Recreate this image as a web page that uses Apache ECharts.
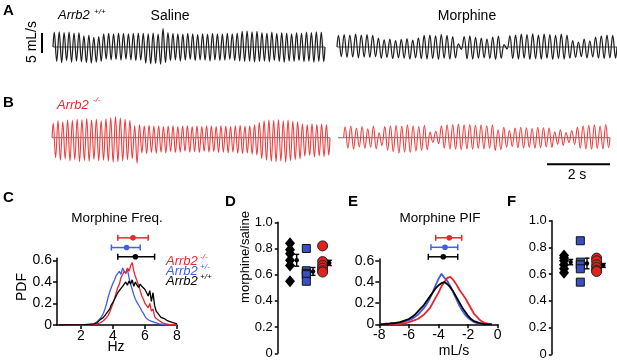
<!DOCTYPE html>
<html>
<head>
<meta charset="utf-8">
<script src="https://cdn.jsdelivr.net/npm/echarts@6/dist/echarts.min.js"></script>
<style>
  html, body { margin: 0; padding: 0; background: #fff; }
  #chart { width: 617px; height: 362px; }
</style>
</head>
<body>
<div id="chart"></div>
<script>
// ---------- traces A/B: peak and trough of every breath, mL/s ----------
const aSalinePeaks = [3.7,3.8,3.6,3.7,3.5,3.6, 2.8,3.0,2.4, 2.6, 3.3,3.4,3.3,3.5,3.4,3.3,3.4,3.5, 3.4,3.3,3.5,3.2, 4.6,
  3.6,3.4,3.3,3.2,3.4,3.3,3.1,3.3,3.2,3.4,3.3,3.2,3.4,3.3,3.5, 3.9,4.0,3.8,3.9,
  3.6,3.5,3.7,3.4,3.6,3.5,3.3,3.6,3.5,3.7,3.6,3.8,3.7]
const aSalineTroughs = [-3.6,-3.9,-3.4,-3.8,-3.5,-3.7, -3.9,-4.0,-3.8, -3.6, -3.0,-3.2,-3.1,-3.3,-3.0,-3.2,-3.4,-3.3, -4.0,-4.2,-4.1,-4.3, -3.9,
  -3.4,-3.2,-3.5,-3.3,-3.1,-3.4,-3.2,-3.3,-3.5,-3.2,-3.4,-3.3,-3.1,-3.4,-3.5, -3.6,-3.5,-3.7,-3.6,
  -3.5,-3.7,-3.4,-3.6,-3.8,-3.5,-3.6,-3.4,-3.7,-3.5,-3.8,-3.6,-3.7]
const aMorphinePeaks = [2.9,3.1,3.0,3.2,3.0,3.1,2.9, 2.2,1.8,2.0,1.6,1.9,2.1,1.7,2.3, 2.9,3.0,2.8,3.1,2.9,2.6, 0.8,
  2.6,2.8,2.4,2.2,2.0,2.5,2.7, 0.6, 2.8,3.0,3.2,3.1,3.3,3.0,3.2,3.1,2.9,3.2,3.0, 1.6,1.2,2.0,1.5, 2.5,2.8,3.0,2.9]
const aMorphineTroughs = [-2.4,-2.6,-2.5,-2.7,-2.5,-2.6,-2.4, -2.8,-2.6,-2.9,-2.7,-2.8,-3.0,-2.7,-2.9, -3.0,-2.9,-3.1,-2.8,-3.0,-2.7, -0.6,
  -2.9,-3.0,-2.8,-2.7,-2.9,-3.1,-2.8, -0.5, -2.9,-3.0,-2.8,-3.1,-2.9,-3.0,-2.8,-3.1,-2.9,-3.0,-2.8, -2.6,-2.4,-2.7,-2.5, -2.8,-2.9,-2.7,-2.8]
const bSalinePeaks = [3.6,4.2,4.0,4.4,4.3,4.6,4.5,4.8,4.4,4.6,4.2,4.7,5.0,5.2,4.9,4.6,4.3, 3.0,
  3.2,3.0,3.1,2.9,3.0,2.8,2.9,3.0,2.8,2.9,3.0,2.8,2.9,2.8,3.0,2.9,2.8,3.0,2.9,2.8,3.0,3.1,2.9,3.0,3.2,
  3.8,4.2,4.4,4.3,4.5,4.2,4.4,4.1,4.0, 3.4,3.2,3.5,3.3,3.4,3.2]
const bSalineTroughs = [-5.0,-5.6,-5.3,-5.8,-5.5,-6.0,-5.7,-5.9,-5.4,-5.8,-5.6,-5.9,-6.1,-6.0,-5.8,-5.5,-5.2, -6.4,
  -3.8,-4.0,-3.7,-3.9,-3.6,-3.8,-3.5,-3.7,-3.6,-3.4,-3.6,-3.5,-3.7,-3.4,-3.6,-3.5,-3.7,-3.6,-3.8,-3.6,-3.9,-4.0,-3.8,-4.1,-4.3,
  -5.2,-5.6,-5.9,-6.0,-5.8,-6.1,-5.7,-5.5,-5.3, -4.6,-4.4,-4.8,-4.5,-4.7,-4.4]
const bMorphinePeaks = [2.7,2.9,2.4,2.8,2.2,2.9, 1.2, 2.8,3.0,3.1,2.9,3.2,3.0,2.8,3.1, 1.4,1.6,
  3.0,3.2,3.3,3.4,3.2,3.3,3.1,3.2,3.0,3.2, 2.0,2.6,1.8, 2.4,2.6,2.5,2.3,2.6,2.5,2.4, 1.5,2.0,1.3,1.8, 2.6,3.0,3.1,3.2,2.9,3.3]
const bMorphineTroughs = [-2.6,-2.8,-2.3,-2.7,-2.4,-2.8, -2.0, -3.2,-3.5,-3.8,-3.6,-3.7,-3.4,-3.2,-3.0, -1.2,-1.5,
  -2.6,-2.8,-2.9,-3.0,-2.8,-2.9,-2.7,-2.8,-2.6,-3.2, -3.0,-2.4,-2.2, -2.5,-2.6,-2.4,-2.6,-2.5,-2.3,-2.4, -1.6,-1.9,-1.2,-1.7, -2.6,-2.8,-2.9,-2.7,-2.8,-2.5]

// ---------- C: morphine frequency PDF ----------
const freqBins = [0.6,1.5,2.2,2.6, 2.8,2.9,3.0,3.1,3.2,3.3,3.4,3.5,3.6,3.7, 3.8,3.9,4.0,4.1,4.2,4.3,4.4,4.5,4.6,4.7,
  4.8,4.9,5.0,5.1,5.2,5.3,5.4,5.5,5.6,5.7, 5.8,5.9,6.0,6.1,6.2,6.3,6.4,6.5,6.6,6.7, 6.8,6.9,7.0,7.1,7.2,7.3,7.4,7.5,7.6,7.7,7.8,7.9,8.0]
const freqKO = [0,0,0,0.003, 0.005,0.01,0.01,0.02,0.02,0.03,0.04,0.05,0.07,0.09, 0.12,0.16,0.20,0.25,0.30,0.35,0.38,0.44,0.47,0.50,
  0.48,0.53,0.50,0.55,0.58,0.50,0.45,0.41,0.37,0.32, 0.27,0.24,0.20,0.18,0.16,0.20,0.13,0.15,0.08,0.06, 0.05,0.04,0.03,0.02,0.02,0.01,0.01,0.005,0.004,0.003,0.002,0.001,0]
const freqHet = [0,0,0.003,0.006, 0.01,0.02,0.03,0.04,0.06,0.08,0.11,0.15,0.20,0.26, 0.31,0.35,0.39,0.42,0.46,0.48,0.50,0.47,0.53,0.50,
  0.48,0.52,0.44,0.38,0.33,0.28,0.24,0.21,0.20,0.16, 0.13,0.11,0.08,0.06,0.05,0.04,0.03,0.03,0.02,0.02, 0.01,0.01,0.01,0.005,0.005,0.004,0.003,0.002,0.002,0.001,0.001,0.001,0]
const freqWT = [0,0.002,0.004,0.008, 0.01,0.02,0.02,0.03,0.05,0.06,0.07,0.09,0.11,0.13, 0.15,0.19,0.21,0.24,0.27,0.30,0.31,0.34,0.36,0.35,
  0.40,0.37,0.41,0.38,0.42,0.36,0.40,0.37,0.35,0.38, 0.36,0.37,0.33,0.30,0.27,0.32,0.22,0.30,0.18,0.13, 0.11,0.09,0.07,0.06,0.06,0.05,0.04,0.05,0.03,0.03,0.02,0.02,0.01]
// [low, high, mean] Hz
const freqStatsKO = [4.3, 6.2, 5.25]
const freqStatsHet = [3.9, 5.7, 4.85]
const freqStatsWT = [4.3, 6.6, 5.4]

// ---------- E: morphine PIF PDF ----------
const pifBins = [-8.0,-7.8,-7.6,-7.4,-7.2,-7.0,-6.8,-6.6,-6.4,-6.2, -6.0,-5.8,-5.6,-5.4,-5.2,-5.0,-4.8,-4.6,-4.4,-4.2,
  -4.0,-3.8,-3.6,-3.4,-3.2,-3.0,-2.8,-2.6,-2.4,-2.2, -2.0,-1.8,-1.6,-1.4,-1.2,-1.0,-0.8,-0.6,-0.4]
const pifKO = [0,0,0,0,0,0,0.003,0.005,0.01,0.01, 0.02,0.03,0.04,0.05,0.07,0.09,0.12,0.15,0.20,0.25,
  0.30,0.36,0.40,0.44,0.45,0.42,0.38,0.33,0.29,0.25, 0.20,0.15,0.10,0.07,0.04,0.02,0.01,0.005,0]
const pifHet = [0,0,0,0.003,0.005,0.005,0.01,0.015,0.02,0.03, 0.04,0.05,0.07,0.09,0.12,0.15,0.19,0.24,0.30,0.37,
  0.43,0.48,0.44,0.41,0.36,0.30,0.24,0.18,0.13,0.09, 0.06,0.04,0.02,0.01,0.005,0.003,0,0,0]
const pifWT = [0,0,0.005,0.005,0.01,0.01,0.015,0.02,0.03,0.04, 0.05,0.07,0.09,0.12,0.15,0.18,0.22,0.26,0.30,0.34,
  0.37,0.39,0.40,0.38,0.35,0.31,0.26,0.21,0.16,0.12, 0.08,0.05,0.03,0.02,0.01,0.005,0,0,0]
const pifStatsKO = [-4.19, -2.43, -3.27]
const pifStatsHet = [-4.51, -2.70, -3.56]
const pifStatsWT = [-4.69, -2.70, -3.68]

// ---------- D / F: morphine/saline ratio per mouse ----------
const dWT = [0.84, 0.79, 0.76, 0.71, 0.67, 0.55]
const dHet = [0.80, 0.63, 0.61, 0.60, 0.55]
const dKO = [0.82, 0.70, 0.67, 0.65, 0.63, 0.62]
const dMean = [0.71, 0.625, 0.69]
const dSem = [0.045, 0.03, 0.02]
const fWT = [0.74, 0.72, 0.70, 0.67, 0.64, 0.61]
const fHet = [0.85, 0.69, 0.67, 0.64, 0.54]
const fKO = [0.72, 0.70, 0.67, 0.65, 0.63, 0.62]
const fMean = [0.69, 0.68, 0.665]
const fSem = [0.02, 0.04, 0.015]

const RED = '#e8262b', BLUE = '#3f5fe8', BLACK = '#000'
const FONT = '"Liberation Sans", Arial, sans-serif'

const chart = echarts.init(document.getElementById('chart'))

// breath i: peak then trough, two x units per breath
function wave(peaks, troughs) {
  const pts = [[0, 0]]
  peaks.forEach((p, i) => {
    pts.push([2 * i + 0.5, p])
    pts.push([2 * i + 1.5, troughs[i]])
  })
  pts.push([2 * peaks.length, 0])
  return pts
}

const traceX = [[0, 110], [0, 98], [0, 116], [-2, 94]]

function traceSeries(idx, peaks, troughs, color, width) {
  return [
    {
      type: 'line', xAxisIndex: idx, yAxisIndex: idx, z: 1,
      data: [[traceX[idx][0], 0], [traceX[idx][1], 0]],
      showSymbol: false, silent: true,
      lineStyle: { color: '#8c8c8c', width: 1.3 }
    },
    {
      type: 'line', xAxisIndex: idx, yAxisIndex: idx, z: 3,
      data: wave(peaks, troughs),
      showSymbol: false, smooth: 0.4, silent: true,
      lineStyle: { color: color, width: width }
    }
  ]
}

function pdfSeries(idx, bins, vals, color, width) {
  return {
    type: 'line', xAxisIndex: idx, yAxisIndex: idx,
    data: bins.map((b, i) => [b, vals[i]]),
    showSymbol: false, silent: true,
    lineStyle: { color: color, width: width }
  }
}

// horizontal mean +/- range above the PDF plots
function rangeSeries(idx, stats, color, level) {
  return {
    type: 'custom', xAxisIndex: idx, yAxisIndex: idx, clip: false, silent: true,
    data: [stats],
    renderItem: function (params, api) {
      const lo = api.coord([api.value(0), level])
      const hi = api.coord([api.value(1), level])
      const mid = api.coord([api.value(2), level])
      const s = { stroke: color, lineWidth: 1.5 }
      return {
        type: 'group', children: [
          { type: 'line', shape: { x1: lo[0], y1: lo[1], x2: hi[0], y2: hi[1] }, style: s },
          { type: 'line', shape: { x1: lo[0], y1: lo[1] - 3, x2: lo[0], y2: lo[1] + 3 }, style: s },
          { type: 'line', shape: { x1: hi[0], y1: hi[1] - 3, x2: hi[0], y2: hi[1] + 3 }, style: s },
          { type: 'circle', shape: { cx: mid[0], cy: mid[1], r: 2.8 }, style: { fill: color } }
        ]
      }
    }
  }
}

function dotSeries(idx, group, vals, symbol, size, fill, border) {
  return {
    type: 'scatter', xAxisIndex: idx, yAxisIndex: idx, silent: true,
    data: vals.map(v => [group, v]),
    symbol: symbol, symbolSize: size,
    itemStyle: { color: fill, borderColor: border, borderWidth: border ? 1 : 0, opacity: 1 }
  }
}

function meanSeries(idx, means, sems) {
  return {
    type: 'custom', xAxisIndex: idx, yAxisIndex: idx, clip: false, silent: true, z: 5,
    data: means.map((m, i) => [i + 1.41, m, sems[i]]),
    renderItem: function (params, api) {
      const x = api.value(0), m = api.value(1), e = api.value(2)
      const top = api.coord([x, m + e]), bot = api.coord([x, m - e]), mid = api.coord([x, m])
      const s = { stroke: '#000', lineWidth: 1.4 }
      return {
        type: 'group', children: [
          { type: 'line', shape: { x1: top[0], y1: top[1], x2: bot[0], y2: bot[1] }, style: s },
          { type: 'line', shape: { x1: top[0] - 2.5, y1: top[1], x2: top[0] + 2.5, y2: top[1] }, style: s },
          { type: 'line', shape: { x1: bot[0] - 2.5, y1: bot[1], x2: bot[0] + 2.5, y2: bot[1] }, style: s },
          { type: 'circle', shape: { cx: mid[0], cy: mid[1], r: 2.2 }, style: { fill: '#000' } }
        ]
      }
    }
  }
}

function txt(text, x, y, size, opt) {
  opt = opt || {}
  return {
    type: 'text', x: x, y: y, rotation: opt.rotation || 0, silent: true,
    style: {
      text: text, fill: opt.color || '#000',
      font: ((opt.style || '') + ' ' + size + 'px ' + FONT).trim(),
      textAlign: opt.align || 'left', textVerticalAlign: 'middle'
    }
  }
}

function bar(x1, y1, x2, y2) {
  return { type: 'line', silent: true, shape: { x1: x1, y1: y1, x2: x2, y2: y2 }, style: { stroke: '#000', lineWidth: 2 } }
}

const hidden = { show: false }
const axisLine = { show: true, onZero: false, lineStyle: { color: '#000', width: 1.5 } }
const tickStyle = { lineStyle: { color: '#000', width: 1.5 } }
const fmt = v => (v === 0 ? '0' : v.toFixed(1))

const grids = [
  { left: 53, top: 27, width: 272, height: 40 },
  { left: 337, top: 27, width: 280, height: 40 },
  { left: 52, top: 109.7, width: 278, height: 56 },
  { left: 338, top: 109.7, width: 272, height: 56 },
  { left: 57, top: 258.3, width: 120, height: 66.7 },
  { left: 277.8, top: 222.3, width: 61.1, height: 131 },
  { left: 379.3, top: 258.9, width: 118.4, height: 65.4 },
  { left: 551.8, top: 220.7, width: 61.1, height: 133.6 }
].map(g => Object.assign({ outerBoundsMode: 'none', containLabel: false }, g))

const xAxes = [
  { gridIndex: 0, type: 'value', min: traceX[0][0], max: traceX[0][1], show: false },
  { gridIndex: 1, type: 'value', min: traceX[1][0], max: traceX[1][1], show: false },
  { gridIndex: 2, type: 'value', min: traceX[2][0], max: traceX[2][1], show: false },
  { gridIndex: 3, type: 'value', min: traceX[3][0], max: traceX[3][1], show: false },
  {
    gridIndex: 4, type: 'value', min: 0.5, max: 8,
    axisLine: axisLine, splitLine: hidden,
    axisTick: Object.assign({ length: 4, customValues: [2, 4, 6, 8] }, tickStyle),
    axisLabel: { customValues: [2, 4, 6, 8], color: '#000', fontSize: 14, fontFamily: FONT, margin: 4 }
  },
  { gridIndex: 5, type: 'value', min: 0.25, max: 4, show: false },
  {
    gridIndex: 6, type: 'value', min: -8, max: 0, interval: 2,
    axisLine: axisLine, splitLine: hidden,
    axisTick: Object.assign({ length: 4 }, tickStyle),
    axisLabel: { color: '#000', fontSize: 14, fontFamily: FONT, margin: 4 }
  },
  { gridIndex: 7, type: 'value', min: 0.25, max: 4, show: false }
]

function pdfY(grid) {
  return {
    gridIndex: grid, type: 'value', min: 0, max: 0.62,
    axisLine: axisLine, splitLine: hidden,
    axisTick: Object.assign({ length: 4, customValues: [0, 0.2, 0.4, 0.6] }, tickStyle),
    axisLabel: { customValues: [0, 0.2, 0.4, 0.6], formatter: fmt, color: '#000', fontSize: 14, fontFamily: FONT, margin: 5 }
  }
}
function ratioY(grid) {
  return {
    gridIndex: grid, type: 'value', min: 0, max: 1, interval: 0.2,
    axisLine: axisLine, splitLine: hidden,
    axisTick: Object.assign({ length: 3 }, tickStyle),
    axisLabel: { formatter: fmt, color: '#000', fontSize: 13, fontFamily: FONT, margin: 5 }
  }
}

const yAxes = [
  { gridIndex: 0, type: 'value', min: -5, max: 5, show: false },
  { gridIndex: 1, type: 'value', min: -5, max: 5, show: false },
  { gridIndex: 2, type: 'value', min: -7, max: 7, show: false },
  { gridIndex: 3, type: 'value', min: -7, max: 7, show: false },
  pdfY(4), ratioY(5), pdfY(6), ratioY(7)
]

const series = [].concat(
  traceSeries(0, aSalinePeaks, aSalineTroughs, '#1e1e1e', 1.25),
  traceSeries(1, aMorphinePeaks, aMorphineTroughs, '#1e1e1e', 1.25),
  traceSeries(2, bSalinePeaks, bSalineTroughs, '#ee3a3a', 1.1),
  traceSeries(3, bMorphinePeaks, bMorphineTroughs, '#ee3a3a', 1.1),
  [
    pdfSeries(4, freqBins, freqHet, BLUE, 1.3),
    pdfSeries(4, freqBins, freqKO, RED, 1.3),
    pdfSeries(4, freqBins, freqWT, BLACK, 1.3),
    rangeSeries(4, freqStatsKO, RED, 0.81),
    rangeSeries(4, freqStatsHet, BLUE, 0.72),
    rangeSeries(4, freqStatsWT, BLACK, 0.635),

    pdfSeries(6, pifBins, pifHet, BLUE, 1.8),
    pdfSeries(6, pifBins, pifKO, RED, 1.8),
    pdfSeries(6, pifBins, pifWT, BLACK, 1.8),
    rangeSeries(6, pifStatsKO, RED, 0.82),
    rangeSeries(6, pifStatsHet, BLUE, 0.73),
    rangeSeries(6, pifStatsWT, BLACK, 0.64),

    dotSeries(5, 1, dWT, 'diamond', [10, 12], '#000'),
    dotSeries(5, 2, dHet, 'rect', 8, '#3a4fc4', '#111'),
    dotSeries(5, 3, dKO, 'circle', 10, '#e0241c', '#222'),
    meanSeries(5, dMean, dSem),

    dotSeries(7, 1, fWT, 'diamond', [10, 12], '#000'),
    dotSeries(7, 2, fHet, 'rect', 8, '#3a4fc4', '#111'),
    dotSeries(7, 3, fKO, 'circle', 10, '#e0241c', '#222'),
    meanSeries(7, fMean, fSem)
  ]
)

const graphic = [
  txt('A', 3, 11, 15, { style: 'bold' }),
  txt('B', 3, 102.5, 15, { style: 'bold' }),
  txt('C', 3, 198, 15, { style: 'bold' }),
  txt('D', 225, 202, 15, { style: 'bold' }),
  txt('E', 348, 202, 15, { style: 'bold' }),
  txt('F', 507, 202, 15, { style: 'bold' }),

  txt('Arrb2', 58, 15.5, 13, { style: 'italic' }),
  txt('+/+', 94, 12, 8, { style: 'italic' }),
  txt('Saline', 170, 16, 14, { align: 'center' }),
  txt('Morphine', 467, 16, 14, { align: 'center' }),
  txt('5 mL/s', 32, 42, 14, { align: 'center', rotation: Math.PI / 2 }),
  bar(42, 33, 42, 53),

  txt('Arrb2', 57, 105, 13, { style: 'italic', color: RED }),
  txt('-/-', 93, 100, 8, { style: 'italic', color: RED }),
  bar(547, 164.3, 610, 164.3),
  txt('2 s', 577, 175, 14, { align: 'center' }),

  txt('Morphine Freq.', 117, 218, 13.5, { align: 'center' }),
  txt('PDF', 22, 287, 14, { align: 'center', rotation: Math.PI / 2 }),
  txt('Hz', 116, 347, 14, { align: 'center' }),
  txt('Arrb2', 166, 261, 13, { style: 'italic', color: RED }),
  txt('-/-', 200, 257, 8, { style: 'italic', color: RED }),
  txt('Arrb2', 166, 271, 13, { style: 'italic', color: BLUE }),
  txt('+/-', 200, 267, 8, { style: 'italic', color: BLUE }),
  txt('Arrb2', 166, 281, 13, { style: 'italic', color: BLACK }),
  txt('+/+', 200, 277, 8, { style: 'italic', color: BLACK }),

  txt('morphine/saline', 245, 257, 13, { align: 'center', rotation: Math.PI / 2 }),

  txt('Morphine PIF', 440, 218, 13.5, { align: 'center' }),
  txt('mL/s', 454, 351, 14, { align: 'center' })
]

chart.setOption({
  animation: false,
  backgroundColor: '#fff',
  grid: grids,
  xAxis: xAxes,
  yAxis: yAxes,
  series: series,
  graphic: graphic
})
</script>
</body>
</html>
